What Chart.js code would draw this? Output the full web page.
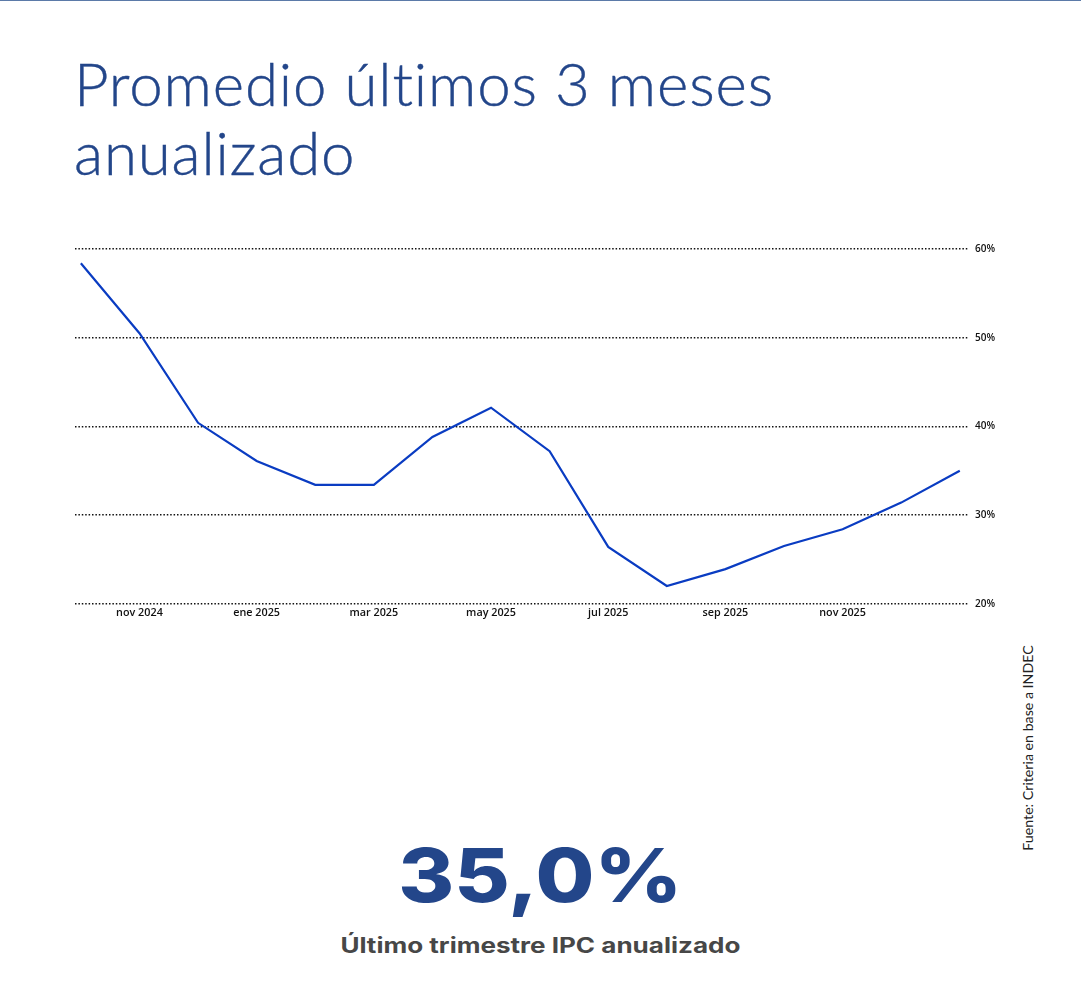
<!DOCTYPE html>
<html>
<head>
<meta charset="utf-8">
<script src="https://cdn.jsdelivr.net/npm/chart.js@4"></script>
<style>
  html, body { margin: 0; padding: 0; background: #fff; }
  body { width: 1081px; height: 1006px; position: relative; overflow: hidden; font-family: Lato, sans-serif; }
  #topline { position: absolute; left: 0; top: 0; width: 1081px; height: 1px; background: #5b7aa8; }
  #title { position: absolute; left: 74px; top: 49px; margin: 0; font-family: Lato, sans-serif; font-weight: 300;
           font-size: 60px; line-height: 69px; color: #23468a; font-variant-ligatures: none; white-space: nowrap;
           -webkit-text-stroke: 0.4px #23468a; }
  #title span { display: inline-block; }
  #wrap { position: absolute; left: 75px; top: 236px; width: 960px; height: 401px; }
  .center { position: absolute; left: 0; width: 1081px; text-align: center; }
  .center span { display: inline-block; white-space: nowrap; transform-origin: 50% 50%; }
  #big { top: 825px; font-family: Inter, sans-serif; font-weight: 800; font-size: 74px; line-height: 100px; color: #23468a; }
  #sub { top: 931px; font-family: Inter, sans-serif; font-weight: 700; font-size: 21px; line-height: 30px; color: #474747; }
  #src { position: absolute; left: 1027px; top: 748px; transform: translate(-50%, -50%) rotate(-90deg);
         white-space: nowrap; font-family: Lato, sans-serif; font-size: 13.5px; color: #222; }
</style>
</head>
<body>
<div id="topline"></div>
<h1 id="title"><span id="t1">Promedio últimos 3 meses</span><br><span>anualizado</span></h1>
<div id="wrap"><canvas id="c"></canvas></div>
<div id="big" class="center"><span id="bigs">35,0%</span></div>
<div id="sub" class="center"><span id="subs">Último trimestre IPC anualizado</span></div>
<div id="src"><span id="srcs">Fuente: Criteria en base a INDEC</span></div>
<script>
const months = ['oct 2024','nov 2024','dic 2024','ene 2025','feb 2025','mar 2025','abr 2025','may 2025',
                'jun 2025','jul 2025','ago 2025','sep 2025','oct 2025','nov 2025','dic 2025','ene 2026'];
const values = [58.4, 50.5, 40.4, 36.1, 33.4, 33.4, 38.8, 42.1, 37.2, 26.4, 22.0, 23.9, 26.5, 28.4, 31.4, 35.0];
const xTickLabels = ['nov 2024','ene 2025','mar 2025','may 2025','jul 2025','sep 2025','nov 2025'];
const yTicks = [20, 30, 40, 50, 60];

// fit text widths to the reference layout
function fitX(id, target) {
  const el = document.getElementById(id);
  const w = el.getBoundingClientRect().width;
  if (w > 0) el.style.transform = 'scaleX(' + (target / w) + ')';
}
fitX('bigs', 284);
fitX('subs', 400);
(function () {
  const el = document.getElementById('t1');
  const w = el.getBoundingClientRect().width;
  if (w > 0) document.getElementById('title').style.letterSpacing = ((700 - w) / 24) + 'px';
})();
(function () {
  const el = document.getElementById('src');
  const w = el.offsetWidth;
  const fs = parseFloat(getComputedStyle(el).fontSize);
  if (w > 0) el.style.fontSize = (fs * 205 / w) + 'px';
})();

const points = values.map((v, i) => ({ x: i, y: v }));

new Chart(document.getElementById('c'), {
  type: 'line',
  data: {
    datasets: [{
      data: points,
      borderColor: '#0a3cc2',
      borderWidth: 2.2,
      pointRadius: 0,
      tension: 0,
      fill: false
    }]
  },
  options: {
    responsive: true,
    maintainAspectRatio: false,
    animation: false,
    layout: { padding: { top: 8, left: 0, right: 0, bottom: 0 } },
    plugins: { legend: { display: false }, tooltip: { enabled: false } },
    scales: {
      x: {
        type: 'linear',
        min: -0.1,
        max: 15.14,
        grid: { display: false, drawTicks: false },
        border: { display: false },
        afterBuildTicks: (scale) => {
          scale.ticks = xTickLabels.map(l => ({ value: months.indexOf(l) }));
        },
        afterFit: (scale) => { scale.height = 33.3; },
        ticks: {
          autoSkip: false,
          maxRotation: 0,
          padding: 3,
          color: '#111',
          font: { family: 'Open Sans', size: 10.8, weight: '600' },
          callback: (v) => months[v]
        }
      },
      y: {
        position: 'right',
        min: 20,
        max: 60,
        afterBuildTicks: (scale) => { scale.ticks = yTicks.map(v => ({ value: v })); },
        afterFit: (scale) => { scale.width = 67; },
        grid: { color: '#111', lineWidth: 1.5, drawTicks: false },
        border: { display: false, dash: [1.5, 1.9] },
        ticks: {
          padding: 7,
          color: '#111',
          font: { family: 'Open Sans', size: 10, weight: '600' },
          callback: (v) => v + '%'
        }
      }
    }
  }
});
</script>
</body>
</html>
